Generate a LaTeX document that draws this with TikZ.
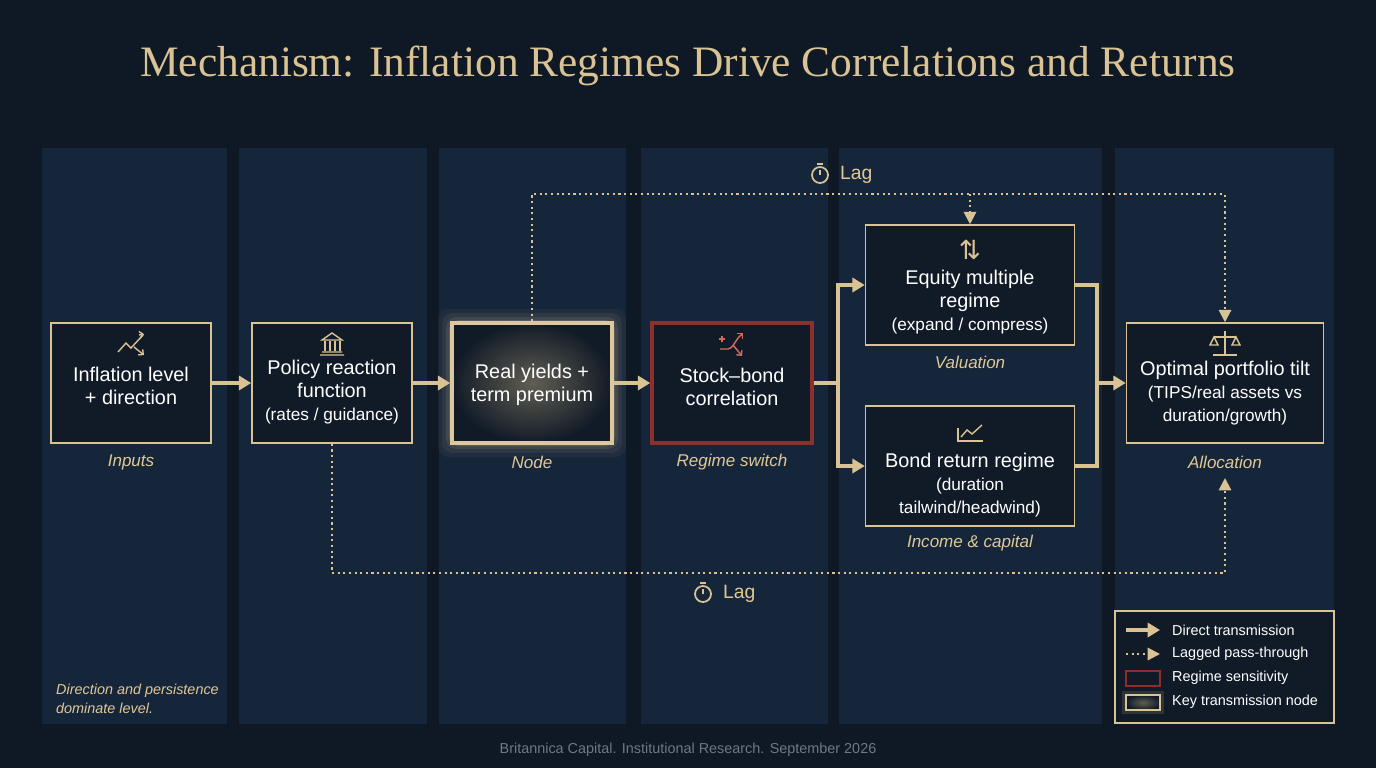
\documentclass[tikz,border=0pt]{standalone}
\usepackage{fontspec}
\setmainfont{Liberation Sans}
\newfontfamily\symfont{DejaVu Sans}
\usetikzlibrary{arrows.meta}
\definecolor{bgdark}{HTML}{0F1925}
\definecolor{colbg}{HTML}{16263A}
\definecolor{boxbg}{HTML}{111B27}
\definecolor{gold}{HTML}{D9C293}
\definecolor{goldtxt}{HTML}{E0C896}
\definecolor{redbox}{HTML}{8E2F2C}
\definecolor{iconred}{HTML}{D46B5E}
\definecolor{foot}{HTML}{6E7886}
\newcommand{\subtxt}[1]{{\fontsize{9.8}{12}\selectfont #1}}
\tikzset{
  px/.style = {x = 0.02cm, y = -0.02cm},
  stage/.style = {draw = gold, line width = 0.9pt, fill = boxbg, minimum width = 3.2cm,
    minimum height = 2.4cm},
  boxtext/.style = {align = center, text = white, font = \fontsize{11.3}{13}\selectfont},
  caption/.style = {text = goldtxt, font = \fontsize{9.7}{12}\selectfont\itshape},
  direct/.style = {draw = gold, line width = 2pt, -{Triangle[length = 7pt, width = 8pt]}},
  direct line/.style = {draw = gold, line width = 2pt},
  lagged/.style = {draw = gold, line width = 1.2pt, dotted, -{Triangle[length = 7pt, width = 7pt]}},
  lagged line/.style = {draw = gold, line width = 1.2pt, dotted},
  icon/.style = {draw = gold, line width = 0.8pt}
}
\begin{document}
\begin{tikzpicture}[px]
  % background and columns
  \fill[bgdark] (0, 0) rectangle (1376, 768);
  \foreach \xa/\xb in {42/227, 239/427, 439/626, 641/828, 839/1102, 1115/1334}
    \fill[colbg] (\xa, 148) rectangle (\xb, 724);
  \useasboundingbox (0, 0) rectangle (1376, 768);
  % title and footer
  \node (title) at (688, 66) {\fontspec{Liberation Serif}\fontsize{24.7}{30}\selectfont\color{gold}Mechanism: Inflation Regimes Drive Correlations and Returns};
  \node (foot) at (688, 750) {\fontsize{8.2}{10}\selectfont\color{foot}Britannica Capital. Institutional Research. September 2026};
  % key node glow
  \foreach \w/\o in {14/0.05, 10/0.08, 6/0.12, 3/0.18}
    \fill[gold, opacity = \o, rounded corners = 6pt] (452-\w, 323-\w) rectangle (612+\w, 443+\w);
  % stage boxes
  \node[stage] (infl) at (131, 383) {};
  \node[stage] (policy) at (332, 383) {};
  \node[stage, draw = gold!90!white, line width = 2pt, inner color = {gold!40!boxbg}, outer color = boxbg] (real) at (532, 383) {};
  \node[stage, draw = redbox, line width = 2pt] (corr) at (732, 383) {};
  \node[stage, minimum width = 4.18cm] (equity) at (970, 285) {};
  \node[stage, minimum width = 4.18cm] (bond) at (970, 466) {};
  \node[stage, minimum width = 3.94cm] (tilt) at (1225, 383) {};
  % stage texts
  \node[boxtext] (infltxt) at (131, 386) {Inflation level\\+ direction};
  \node[boxtext] (policytxt) at (332, 392) {Policy reaction\\function\\\subtxt{(rates / guidance)}};
  \node[boxtext] (realtxt) at (532, 385) {Real yields +\\term premium};
  \node[boxtext] (corrtxt) at (732, 387) {Stock–bond\\correlation};
  \node[boxtext] (equitytxt) at (970, 302) {Equity multiple\\regime\\\subtxt{(expand / compress)}};
  \node[boxtext] (bondtxt) at (970, 485) {Bond return regime\\\subtxt{(duration}\\\subtxt{tailwind/headwind)}};
  \node[boxtext] (tilttxt) at (1225, 393) {Optimal portfolio tilt\\\subtxt{(TIPS/real assets vs}\\\subtxt{duration/growth)}};
  % captions
  \node[caption] (capinfl) at (131, 462) {Inputs};
  \node[caption] (capreal) at (532, 462) {Node};
  \node[caption] (capcorr) at (732, 462) {Regime switch};
  \node[caption] (capeq) at (970, 362) {Valuation};
  \node[caption] (capbond) at (970, 543) {Income \& capital};
  \node[caption] (captilt) at (1225, 462) {Allocation};
  \node[caption, align = left, anchor = west, font = \fontsize{8.2}{11}\selectfont\itshape] (note) at (50, 699) {Direction and persistence\\dominate level.};
  % icons
  \draw[icon] (118, 352) -- (126, 343) -- (131, 348) -- (143, 335);
  \draw[icon, -{Straight Barb[length = 2pt]}] (139, 335) -- (144, 334);
  \draw[icon, -{Straight Barb[length = 2pt]}] (134, 347) -- (144, 355);
  \draw[icon] (320, 355) -- (344, 355) (322, 352) -- (342, 352) (322, 340) -- (342, 340) -- (332, 333) -- cycle;
  \foreach \i in {325, 330, 335, 340} \draw[icon] (\i, 341) -- (\i, 351);
  \draw[iconred, line width = 0.8pt] (719, 339) -- (725, 339) (722, 336) -- (722, 342);
  \draw[iconred, line width = 0.8pt] (720, 349) -- (728, 349) .. controls (733, 349) and (735, 340) .. (741, 335);
  \draw[iconred, line width = 0.8pt, -{Straight Barb[length = 2pt]}] (740, 336) -- (743, 333);
  \draw[iconred, line width = 0.8pt, -{Straight Barb[length = 2pt]}] (733, 345) -- (742, 356);
  \node[text = gold, font = \symfont\fontsize{15}{15}\selectfont] (iconeq) at (970, 250) {⇅};
  \draw[icon] (958, 428) -- (958, 441) -- (983, 441);
  \draw[icon] (961, 437) -- (967, 430) -- (972, 434) -- (982, 425);
  \draw[icon] (1213, 355) -- (1237, 355) (1225, 331) -- (1225, 355) (1214, 337) -- (1236, 337);
  \draw[icon] (1210, 345) -- (1214, 337) -- (1218, 345) -- cycle (1232, 345) -- (1236, 337) -- (1240, 345) -- cycle;
  % direct transmission
  \draw[direct] (infl) -- (policy);
  \draw[direct] (policy) -- (real);
  \draw[direct] (real) -- (corr);
  \coordinate (split) at (838, 383);
  \coordinate (merge) at (1097, 383);
  \draw[direct line] (corr.east) -- (split);
  \draw[direct] (split) |- (equity.west);
  \draw[direct] (split) |- (bond.west);
  \draw[direct line] (equity.east) -| (merge);
  \draw[direct line] (bond.east) -| (merge);
  \draw[direct] (merge) -- (tilt.west);
  % lagged pass-through
  \coordinate (topline) at (532, 194);
  \coordinate (botline) at (332, 573);
  \coordinate (tiltbelow) at (1225, 478);
  \draw[lagged] (real.north) -- (topline) -| (tilt.north);
  \draw[lagged] (970, 194) -- (equity.north);
  \draw[lagged] (policy.south) -- (botline) -| (tiltbelow);
  \foreach \cx/\cy/\nm in {820/175/lagtop, 703/594/lagbot} {
    \draw[icon, line width = 1pt] (\cx, \cy) circle (8);
    \draw[icon] (\cx, \cy) -- (\cx, \cy-5) (\cx-3, \cy-11) -- (\cx+3, \cy-11);
    \node[anchor = west, text = goldtxt, font = \fontsize{11}{13}\selectfont] (\nm) at (\cx+14, \cy) {Lag};
  }
  % legend
  \node[draw = gold, fill = boxbg, line width = 0.8pt, minimum width = 4.38cm, minimum height = 2.24cm] (legend) at (1224.5, 667) {};
  \coordinate (la1) at (1126, 630); \coordinate (lb1) at (1160, 630);
  \coordinate (la2) at (1126, 654); \coordinate (lb2) at (1160, 654);
  \draw[direct] (la1) -- (lb1);
  \draw[lagged] (la2) -- (lb2);
  \draw[redbox, line width = 1.6pt, fill = boxbg] (1126, 671) rectangle (1160, 686);
  \fill[gold, opacity = 0.15] (1122, 691) rectangle (1164, 714);
  \draw[gold, line width = 1.6pt, inner color = gold!40!boxbg, outer color = boxbg] (1126, 695) rectangle (1160, 710);
  \foreach \yy/\tx in {630/Direct transmission, 654/Lagged pass-through, 678/Regime sensitivity, 702/Key transmission node}
    \node[anchor = west, text = white, font = \fontsize{8.2}{10}\selectfont] at (1166, \yy) {\tx};
\end{tikzpicture}
\end{document}
